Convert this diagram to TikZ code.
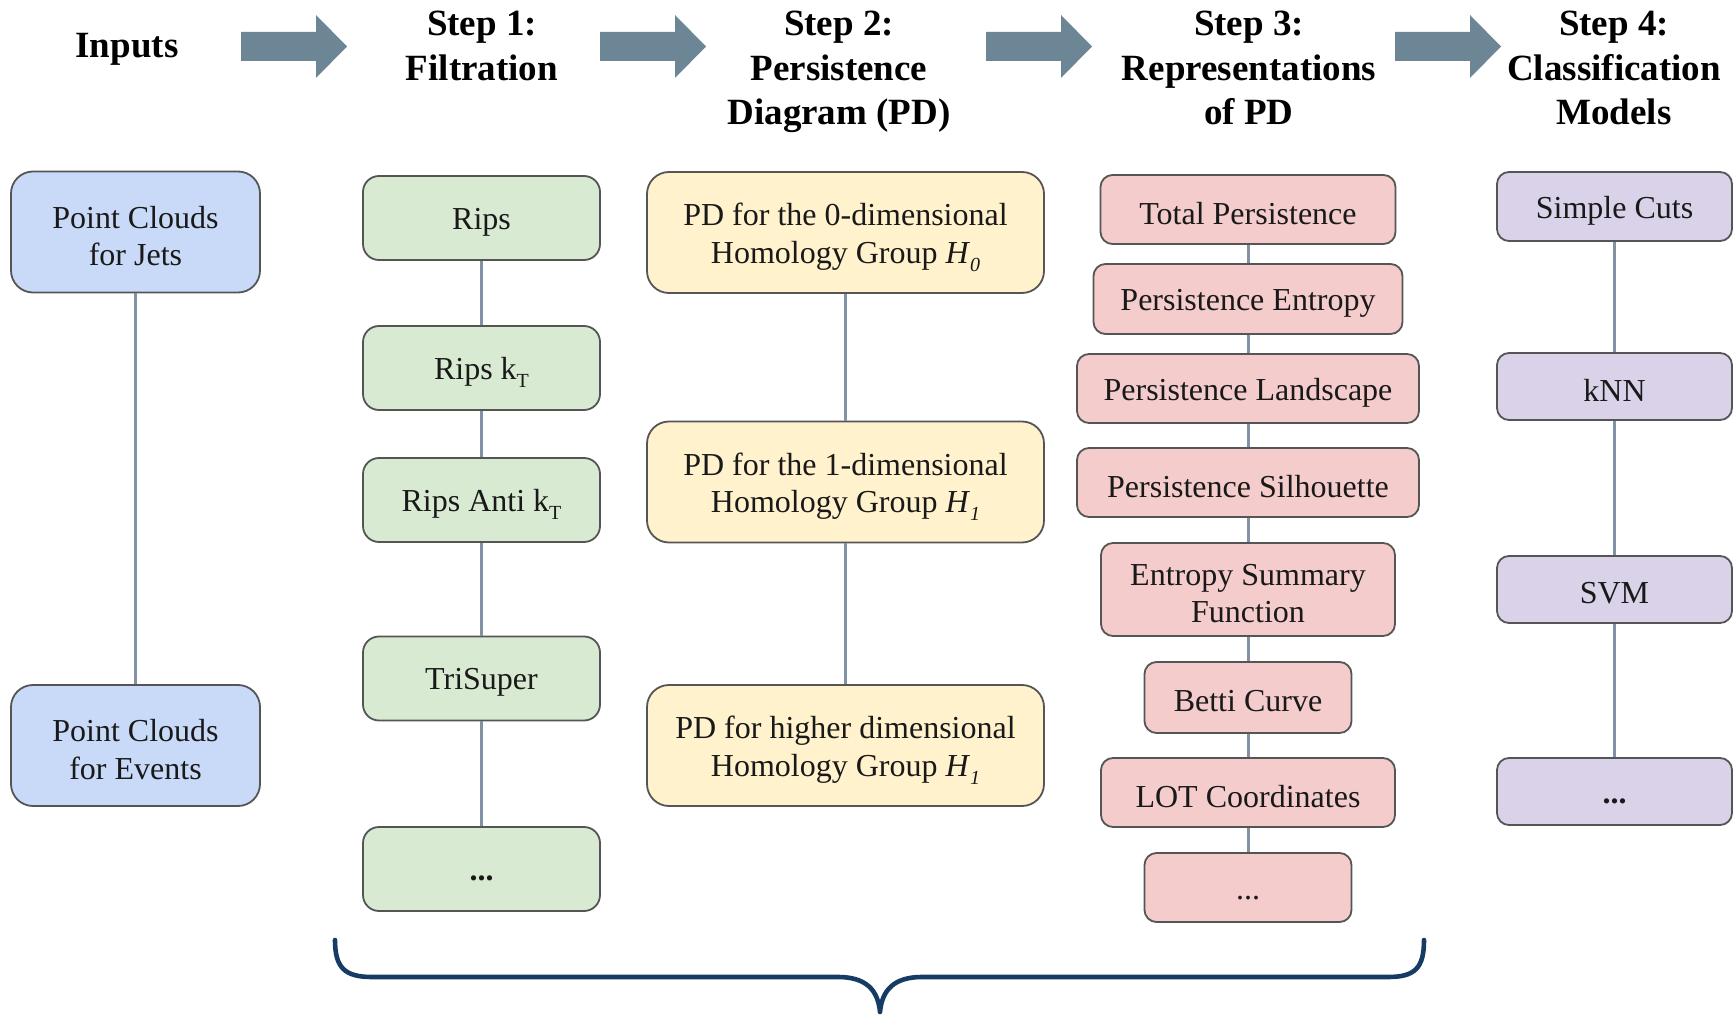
\documentclass[tikz,border=0pt]{standalone}
\usepackage{fontspec}
\setmainfont{Liberation Serif}
\newcommand\lowsub[1]{\raisebox{-0.55ex}[0pt][0pt]{\fontsize{10}{10}\selectfont #1}}
\definecolor{cblue}{HTML}{C9DAF8}
\definecolor{cgreen}{HTML}{D9EAD3}
\definecolor{cyellow}{HTML}{FFF2CC}
\definecolor{cred}{HTML}{F4CCCC}
\definecolor{cpurple}{HTML}{D9D2E9}
\definecolor{boxline}{RGB}{85,85,85}
\definecolor{txt}{RGB}{25,25,25}
\definecolor{connc}{RGB}{128,146,163}
\definecolor{arrc}{RGB}{108,134,150}
\definecolor{bracecol}{RGB}{22,60,100}
% box with its text node shifted slightly down
\newcommand\bx[4]{%
  \node[#1] (#2) at (#3) {};
  \node[boxtext] (#2t) at ([yshift=-2pt]#2.center) {#4};}
\begin{document}
\begin{tikzpicture}[x=0.5pt,y=-0.5pt,
  box/.style={draw=boxline, line width=0.9pt, inner sep=0pt},
  boxtext/.style={inner sep=0pt, align=center, text=txt, font=\fontsize{16}{18.8}\selectfont},
  bluebox/.style={box, fill=cblue, rounded corners=11pt, minimum width=124.5pt, minimum height=60.5pt},
  greenbox/.style={box, fill=cgreen, rounded corners=8pt, minimum width=118.5pt, minimum height=42pt},
  yellowbox/.style={box, fill=cyellow, rounded corners=11pt, minimum width=198.5pt, minimum height=60.5pt},
  redbox/.style={box, fill=cred, rounded corners=6pt},
  purplebox/.style={box, fill=cpurple, rounded corners=6pt, minimum width=117.5pt},
  title/.style={anchor=base, inner sep=0pt, text=black, font=\bfseries\fontsize{18.5}{22}\selectfont},
  conn/.style={draw=connc, line width=1.5pt},
  blockarr/.style={fill=arrc},
  bracec/.style={draw=bracecol, line width=2.3pt, line cap=round, line join=round}]
\fill[white] (0,0) rectangle (1736,1016);
\useasboundingbox (0,0) rectangle (1736,1016);

% titles
\node[title] (tin) at (127,58) {Inputs};
\node[title] (t1a) at (482,36) {Step 1:};
\node[title] (t1b) at (482,81) {Filtration};
\node[title] (t2a) at (839,36) {Step 2:};
\node[title] (t2b) at (839,81) {Persistence};
\node[title] (t2c) at (839,125) {Diagram (PD)};
\node[title] (t3a) at (1249,36) {Step 3:};
\node[title] (t3b) at (1249,81) {Representations};
\node[title] (t3c) at (1249,125) {of PD};
\node[title] (t4a) at (1614,36) {Step 4:};
\node[title] (t4b) at (1614,81) {Classification};
\node[title] (t4c) at (1614,125) {Models};

% block arrows
\foreach \x in {241,600,986,1395}{
  \fill[blockarr] (\x,32) -- (\x+75,32) -- (\x+75,15) -- (\x+106,46.5) -- (\x+75,78) -- (\x+75,61) -- (\x,61) -- cycle;
}

% inputs
\bx{bluebox}{jets}{135.5,232}{Point Clouds\\for Jets}
\bx{bluebox}{events}{135.5,745.5}{Point Clouds\\for Events}

% filtration
\bx{greenbox}{rips}{481.5,218}{Rips}
\bx{greenbox}{ripskt}{481.5,368}{Rips k\lowsub{T}}
\bx{greenbox}{ripsanti}{481.5,500}{Rips Anti k\lowsub{T}}
\bx{greenbox}{trisuper}{481.5,678.5}{TriSuper}
\bx{greenbox}{gdots}{481.5,869}{\strut\textbf{...}}

% persistence diagrams
\bx{yellowbox}{pdz}{845.5,232.5}{PD for the 0-dimensional\\Homology Group \textit{H}\lowsub{\itshape 0}}
\bx{yellowbox}{pdo}{845.5,482}{PD for the 1-dimensional\\Homology Group \textit{H}\lowsub{\itshape 1}}
\bx{yellowbox}{pdh}{845.5,745.5}{PD for higher dimensional\\Homology Group \textit{H}\lowsub{\itshape 1}}

% representations
\bx{redbox, minimum width=147.5pt, minimum height=34.5pt}{tp}{1248,209.5}{Total Persistence}
\bx{redbox, minimum width=154.5pt, minimum height=35pt}{pe}{1248,299}{Persistence Entropy}
\bx{redbox, minimum width=171pt, minimum height=34.5pt}{pl}{1248,388.5}{Persistence Landscape}
\bx{redbox, minimum width=171pt, minimum height=34.5pt}{ps}{1248,482.5}{Persistence Silhouette}
\bx{redbox, minimum width=147pt, minimum height=46.5pt}{es}{1248,589.5}{Entropy Summary\\Function}
\bx{redbox, minimum width=103.5pt, minimum height=35.5pt}{bc}{1248,697.5}{Betti Curve}
\bx{redbox, minimum width=147pt, minimum height=34.5pt}{lot}{1248,792.5}{LOT Coordinates}
\bx{redbox, minimum width=103.5pt, minimum height=34.5pt}{rdots}{1248,887.5}{\strut...}

% classification
\bx{purplebox, minimum height=34.5pt}{sc}{1614.5,206.5}{Simple Cuts}
\bx{purplebox, minimum height=33.5pt}{knn}{1614.5,386.5}{kNN}
\bx{purplebox, minimum height=33.5pt}{svm}{1614.5,589.5}{SVM}
\bx{purplebox, minimum height=33.5pt}{pdots}{1614.5,791.5}{\strut\textbf{...}}

% connectors
\draw[conn] (jets) -- (events);
\draw[conn] (rips) -- (ripskt);
\draw[conn] (ripskt) -- (ripsanti);
\draw[conn] (ripsanti) -- (trisuper);
\draw[conn] (trisuper) -- (gdots);
\draw[conn] (pdz) -- (pdo);
\draw[conn] (pdo) -- (pdh);
\draw[conn] (tp) -- (pe);
\draw[conn] (pe) -- (pl);
\draw[conn] (pl) -- (ps);
\draw[conn] (ps) -- (es);
\draw[conn] (es) -- (bc);
\draw[conn] (bc) -- (lot);
\draw[conn] (lot) -- (rdots);
\draw[conn] (sc) -- (knn);
\draw[conn] (knn) -- (svm);
\draw[conn] (svm) -- (pdots);

% brace
\draw[bracec] (335,940) .. controls (335,968) and (345,977) .. (372,977) -- (838,977)
  .. controls (866,977) and (878,990) .. (880,1012)
  .. controls (882,990) and (894,977) .. (922,977) -- (1388,977)
  .. controls (1415,977) and (1424,968) .. (1424,940);
\end{tikzpicture}
\end{document}
